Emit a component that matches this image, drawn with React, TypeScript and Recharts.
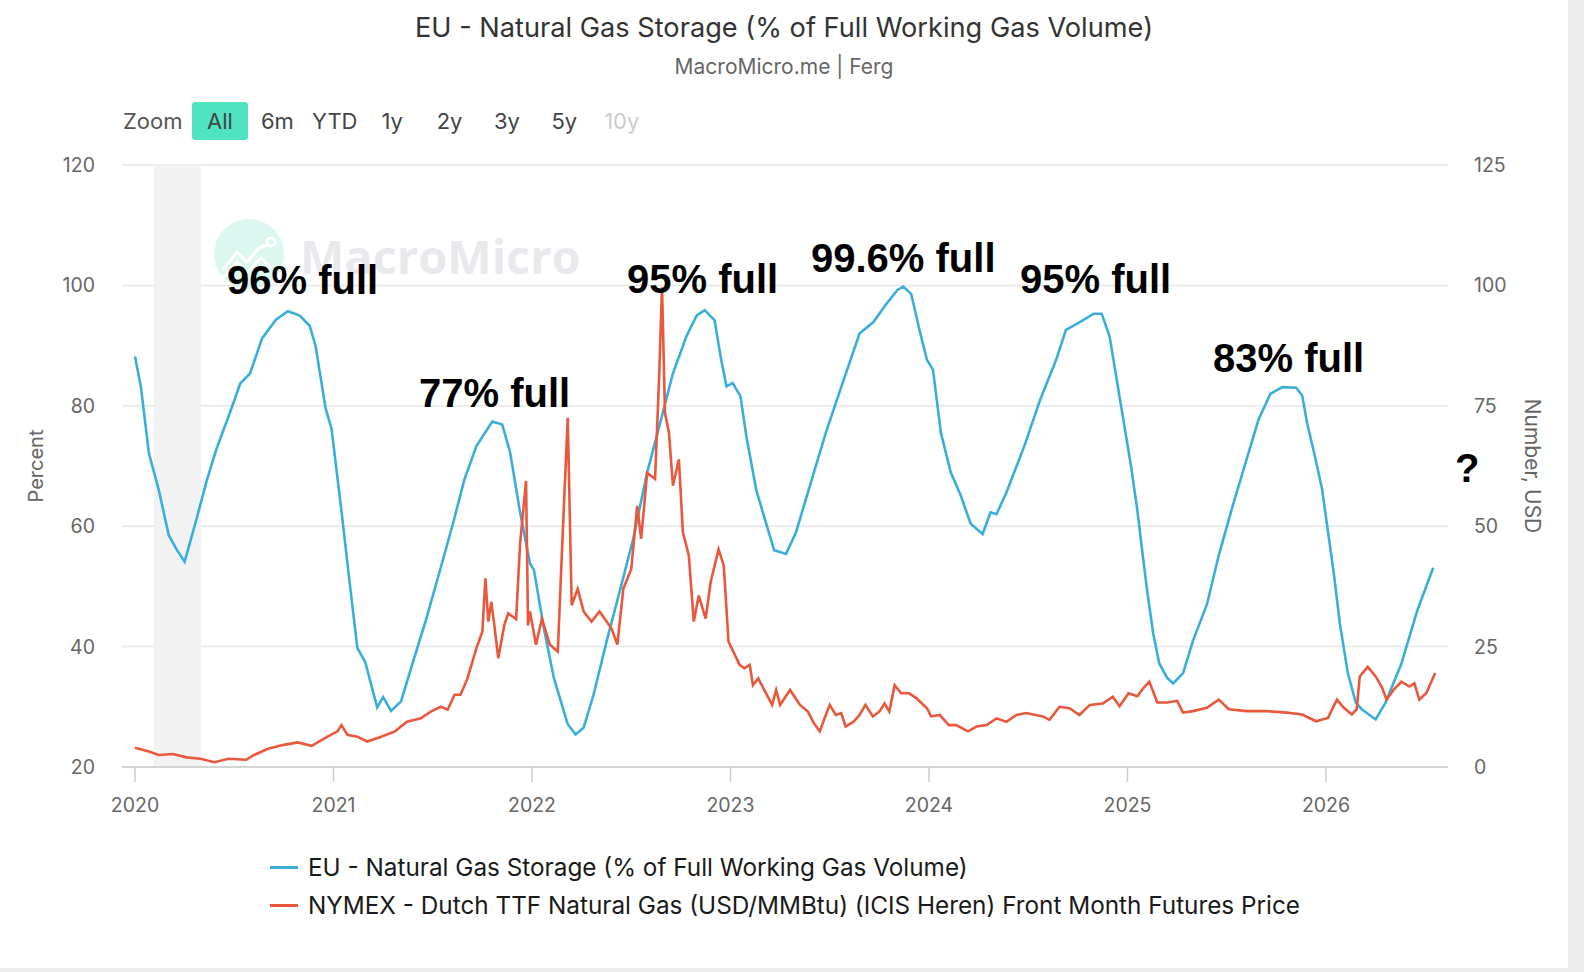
import { LineChart, Line, XAxis, YAxis, CartesianGrid, ReferenceArea } from "recharts";

// EU gas storage, % of full working gas volume (x = fractional year)
const STORAGE_DATES = [
  2020.0, 2020.03, 2020.07, 2020.12, 2020.17, 2020.21, 2020.25, 2020.31, 2020.36, 2020.41,
  2020.48, 2020.53, 2020.58, 2020.64, 2020.71, 2020.77, 2020.83, 2020.88, 2020.91, 2020.96,
  2020.99, 2021.04, 2021.08, 2021.12, 2021.16, 2021.22, 2021.25, 2021.29, 2021.34, 2021.4,
  2021.47, 2021.54, 2021.6, 2021.66, 2021.72, 2021.8, 2021.85, 2021.89, 2021.94, 2021.99,
  2022.01, 2022.06, 2022.11, 2022.18, 2022.22, 2022.26, 2022.31, 2022.38, 2022.45, 2022.51,
  2022.58, 2022.65, 2022.71, 2022.78, 2022.83, 2022.87, 2022.92, 2022.95, 2022.98, 2023.01,
  2023.05, 2023.08, 2023.13, 2023.17, 2023.22, 2023.28, 2023.33, 2023.4, 2023.48, 2023.57,
  2023.65, 2023.72, 2023.78, 2023.84, 2023.87, 2023.91, 2023.96, 2023.99, 2024.02, 2024.06,
  2024.11, 2024.16, 2024.21, 2024.27, 2024.31, 2024.34, 2024.39, 2024.48, 2024.56, 2024.64,
  2024.69, 2024.76, 2024.83, 2024.87, 2024.91, 2024.95, 2024.99, 2025.02, 2025.05, 2025.07,
  2025.1, 2025.13, 2025.16, 2025.2, 2025.23, 2025.28, 2025.33, 2025.4, 2025.46, 2025.53,
  2025.6, 2025.66, 2025.72, 2025.78, 2025.85, 2025.88, 2025.905, 2025.94, 2025.98, 2026.01,
  2026.04, 2026.07, 2026.11, 2026.15, 2026.18, 2026.25, 2026.3, 2026.38, 2026.46, 2026.54,
];
const STORAGE_PCT = [
  88.2, 83.1, 72.1, 66.0, 58.5, 56.1, 54.1, 61.2, 67.4, 72.8,
  79.0, 83.7, 85.4, 91.2, 94.3, 95.7, 95.0, 93.3, 89.9, 79.6,
  76.2, 62.6, 51.0, 39.8, 37.4, 29.9, 31.6, 29.3, 30.9, 37.4,
  44.9, 53.1, 60.2, 67.8, 73.3, 77.4, 76.9, 72.2, 62.3, 53.8,
  52.7, 43.0, 34.8, 27.1, 25.4, 26.5, 32.0, 41.4, 50.2, 57.9,
  68.9, 77.7, 85.4, 91.7, 95.0, 95.9, 94.2, 88.2, 83.2, 83.8,
  81.6, 74.9, 66.0, 61.5, 56.0, 55.4, 59.0, 66.7, 75.5, 84.3,
  92.0, 93.9, 96.7, 99.2, 99.8, 98.6, 91.5, 87.6, 86.0, 75.5,
  68.9, 65.1, 60.4, 58.7, 62.3, 62.0, 65.6, 73.3, 81.0, 87.6,
  92.6, 93.9, 95.3, 95.3, 91.5, 83.5, 75.5, 69.5, 62.5, 57.0,
  49.0, 42.1, 37.2, 34.8, 33.9, 35.6, 41.0, 47.0, 55.2, 63.4,
  71.1, 77.7, 82.0, 83.1, 83.0, 81.7, 77.1, 72.2, 66.2, 59.1,
  52.0, 43.8, 35.6, 30.7, 29.6, 27.9, 30.7, 37.2, 46.0, 53.1,
];

// Dutch TTF front month, USD/MMBtu
const TTF_DATES = [
  2020.0, 2020.07, 2020.12, 2020.19, 2020.26, 2020.33, 2020.4, 2020.47, 2020.56, 2020.6,
  2020.67, 2020.75, 2020.82, 2020.89, 2020.97, 2021.02, 2021.04, 2021.07, 2021.12, 2021.17,
  2021.24, 2021.31, 2021.37, 2021.44, 2021.49, 2021.54, 2021.575, 2021.61, 2021.64, 2021.675,
  2021.72, 2021.75, 2021.765, 2021.78, 2021.795, 2021.81, 2021.83, 2021.86, 2021.88, 2021.92,
  2021.94, 2021.97, 2021.98, 2021.99, 2022.02, 2022.05, 2022.09, 2022.13, 2022.15, 2022.18,
  2022.2, 2022.23, 2022.26, 2022.3, 2022.34, 2022.4, 2022.43, 2022.46, 2022.5, 2022.53,
  2022.55, 2022.58, 2022.62, 2022.64, 2022.655, 2022.67, 2022.69, 2022.71, 2022.74, 2022.76,
  2022.79, 2022.815, 2022.84, 2022.875, 2022.9, 2022.94, 2022.966, 2022.99, 2023.046, 2023.07,
  2023.097, 2023.113, 2023.14, 2023.17, 2023.21, 2023.23, 2023.25, 2023.3, 2023.35, 2023.39,
  2023.42, 2023.45, 2023.48, 2023.5, 2023.53, 2023.558, 2023.58, 2023.62, 2023.65, 2023.68,
  2023.717, 2023.75, 2023.776, 2023.8, 2023.827, 2023.86, 2023.9, 2023.936, 2023.99, 2024.01,
  2024.054, 2024.1, 2024.137, 2024.196, 2024.24, 2024.29, 2024.34, 2024.39, 2024.44, 2024.49,
  2024.573, 2024.607, 2024.657, 2024.708, 2024.758, 2024.81, 2024.876, 2024.926, 2024.96, 2025.005,
  2025.05, 2025.08, 2025.11, 2025.15, 2025.2, 2025.25, 2025.28, 2025.33, 2025.4, 2025.46,
  2025.51, 2025.6, 2025.7, 2025.8, 2025.88, 2025.95, 2026.01, 2026.055, 2026.09, 2026.13,
  2026.155, 2026.17, 2026.21, 2026.25, 2026.28, 2026.305, 2026.34, 2026.38, 2026.42, 2026.445,
  2026.47, 2026.505, 2026.55,
];
const TTF_USD = [
  4.0, 3.2, 2.5, 2.7, 2.0, 1.7, 1.0, 1.7, 1.5, 2.5,
  3.8, 4.6, 5.1, 4.4, 6.3, 7.4, 8.7, 6.7, 6.3, 5.3,
  6.3, 7.4, 9.4, 10.1, 11.5, 12.5, 11.9, 15.0, 15.0, 18.4,
  24.7, 28.1, 39.2, 30.2, 34.3, 29.5, 22.6, 29.4, 31.9, 30.7,
  46.4, 59.4, 29.4, 32.3, 25.4, 30.8, 25.4, 24.0, 43.9, 72.5,
  33.6, 37.0, 32.3, 30.2, 32.3, 28.8, 25.4, 37.0, 41.1, 54.2,
  47.4, 61.1, 59.8, 80.4, 99.6, 73.5, 69.4, 58.4, 63.9, 48.8,
  43.9, 30.2, 35.6, 30.8, 38.4, 45.2, 41.8, 26.0, 21.2, 20.5,
  21.2, 17.0, 18.4, 16.0, 12.9, 16.0, 12.9, 16.0, 12.9, 11.5,
  9.1, 7.4, 10.8, 12.9, 10.8, 11.2, 8.4, 9.4, 10.8, 12.9,
  10.5, 11.5, 13.2, 11.5, 17.0, 15.3, 15.3, 14.3, 12.2, 10.5,
  10.8, 8.7, 8.7, 7.4, 8.4, 8.7, 10.1, 9.4, 10.8, 11.2,
  10.5, 9.8, 12.5, 12.2, 10.8, 12.9, 13.2, 14.6, 12.6, 15.3,
  14.7, 16.4, 17.7, 13.4, 13.4, 13.7, 11.3, 11.6, 12.3, 14.0,
  12.0, 11.6, 11.6, 11.3, 10.9, 9.5, 10.2, 14.0, 12.3, 10.9,
  12.0, 18.8, 20.8, 18.8, 16.7, 14.0, 16.0, 17.7, 16.7, 17.4,
  14.0, 15.3, 19.5,
];

const YEAR_TICKS = [2020, 2021, 2022, 2023, 2024, 2025, 2026];
const PCT_TICKS = [20, 40, 60, 80, 100, 120];
const USD_TICKS = [0, 25, 50, 75, 100, 125];
const RECESSION = [2020.095, 2020.333];

const RANGE_BUTTONS = ["All", "6m", "YTD", "1y", "2y", "3y", "5y", "10y"];

const ANNOTATIONS = [
  { text: "96% full", left: 227, top: 260 },
  { text: "77% full", left: 419, top: 373 },
  { text: "95% full", left: 627, top: 259 },
  { text: "99.6% full", left: 811, top: 238 },
  { text: "95% full", left: 1020, top: 259 },
  { text: "83% full", left: 1213, top: 338 },
  { text: "?", left: 1455, top: 448 },
];

const SERIES = [
  { name: "EU - Natural Gas Storage (% of Full Working Gas Volume)", color: "#3aaedb" },
  { name: "NYMEX - Dutch TTF Natural Gas (USD/MMBtu) (ICIS Heren) Front Month Futures Price", color: "#e9573d" },
];

const storageData = STORAGE_DATES.map((t, i) => ({ t, v: STORAGE_PCT[i] }));
const ttfData = TTF_DATES.map((t, i) => ({ t, v: TTF_USD[i] }));

const FONT = "Inter, 'Liberation Sans', sans-serif";
const tickStyle = { fill: "#666", fontSize: 19.5, fontFamily: FONT };

export default function App() {
  return (
    <div
      style={{
        position: "absolute",
        left: 0,
        top: 0,
        width: 1584,
        height: 972,
        background: "#ececec",
        fontFamily: FONT,
      }}
    >
      <div style={{ position: "absolute", left: 0, top: 0, width: 1568, height: 968, background: "#fff" }}>
        {/* watermark */}
        <svg style={{ position: "absolute", left: 213, top: 218 }} width={72} height={72}>
          <circle cx={36} cy={36} r={35} fill="#dcf7ef" />
          <polyline points="10,52 24,34 34,44 46,30 56,26" fill="none" stroke="#fff" strokeWidth={3} />
          <polyline points="10,60 24,44 34,54 48,40 58,50" fill="none" stroke="#fff" strokeWidth={3} />
          <circle cx={58} cy={24} r={4} fill="none" stroke="#fff" strokeWidth={2.5} />
        </svg>
        <div
          style={{
            position: "absolute",
            left: 300,
            top: 228,
            fontSize: 47,
            fontWeight: 700,
            color: "#e8e9ec",
            fontFamily: "'Open Sans', sans-serif",
            lineHeight: "56px",
          }}
        >
          MacroMicro
        </div>

        <div style={{ position: "absolute", left: 0, width: 1568, top: 11, textAlign: "center", fontSize: 27.2, color: "#333" }}>
          EU - Natural Gas Storage (% of Full Working Gas Volume)
        </div>
        <div style={{ position: "absolute", left: 0, width: 1568, top: 54, textAlign: "center", fontSize: 21, color: "#666" }}>
          MacroMicro.me | Ferg
        </div>

        <div style={{ position: "absolute", left: 123, top: 102, height: 38, display: "flex", alignItems: "center", fontSize: 22 }}>
          <span style={{ color: "#555", width: 69 }}>Zoom</span>
          {RANGE_BUTTONS.map((b, i) => (
            <span
              key={b}
              style={{
                width: 56,
                height: 38,
                lineHeight: "38px",
                textAlign: "center",
                marginRight: 1.4,
                borderRadius: 3,
                background: i === 0 ? "#50e3c2" : "transparent",
                color: b === "10y" ? "#ccc" : "#444",
              }}
            >
              {b}
            </span>
          ))}
        </div>

        <div style={{ position: "absolute", left: 0, top: 0 }}>
          <LineChart width={1568} height={850} margin={{ top: 165, right: 60, bottom: 43, left: 62 }}>
            <CartesianGrid yAxisId="pct" vertical={false} stroke="#e6e6e6" strokeWidth={1.5} />
            <XAxis
              dataKey="t"
              type="number"
              domain={[2019.9345, 2026.6146]}
              ticks={YEAR_TICKS}
              allowDataOverflow
              height={40}
              stroke="#ccc"
              strokeWidth={1.5}
              tickSize={15}
              tickMargin={16}
              tick={tickStyle}
            />
            <YAxis
              yAxisId="pct"
              domain={[20, 120]}
              ticks={PCT_TICKS}
              width={60}
              axisLine={false}
              tickLine={false}
              tickSize={0}
              tickMargin={27}
              tick={tickStyle}
            />
            <YAxis
              yAxisId="usd"
              orientation="right"
              domain={[0, 125]}
              ticks={USD_TICKS}
              width={60}
              axisLine={false}
              tickLine={false}
              tickSize={0}
              tickMargin={26}
              tick={{ ...tickStyle, textAnchor: "start" }}
            />
            <ReferenceArea
              yAxisId="pct"
              x1={RECESSION[0]}
              x2={RECESSION[1]}
              y1={20}
              y2={120}
              fill="#f2f2f2"
              fillOpacity={1}
              stroke="none"
            />
            <Line
              yAxisId="pct"
              data={storageData}
              dataKey="v"
              type="linear"
              stroke={SERIES[0].color}
              strokeWidth={2.6}
              dot={false}
              isAnimationActive={false}
            />
            <Line
              yAxisId="usd"
              data={ttfData}
              dataKey="v"
              type="linear"
              stroke={SERIES[1].color}
              strokeWidth={2.6}
              dot={false}
              isAnimationActive={false}
            />
          </LineChart>
        </div>

        <div
          style={{
            position: "absolute",
            left: 36,
            top: 466,
            transform: "translate(-50%, -50%) rotate(-90deg)",
            fontSize: 20,
            color: "#666",
            whiteSpace: "nowrap",
          }}
        >
          Percent
        </div>
        <div
          style={{
            position: "absolute",
            left: 1532,
            top: 466,
            transform: "translate(-50%, -50%) rotate(90deg)",
            fontSize: 21,
            color: "#666",
            whiteSpace: "nowrap",
          }}
        >
          Number, USD
        </div>

        {ANNOTATIONS.map((a, i) => (
          <div
            key={i}
            style={{
              position: "absolute",
              left: a.left,
              top: a.top,
              fontFamily: "'Liberation Sans', Arial, sans-serif",
              fontWeight: 700,
              fontSize: 40,
              lineHeight: "40px",
              color: "#000",
              whiteSpace: "nowrap",
            }}
          >
            {a.text}
          </div>
        ))}

        <div style={{ position: "absolute", left: 270, top: 848 }}>
          {SERIES.map((s) => (
            <div key={s.name} style={{ display: "flex", alignItems: "center", height: 38, fontSize: 24.3, color: "#1a1a1a" }}>
              <span style={{ width: 28, height: 3, background: s.color, marginRight: 10 }} />
              {s.name}
            </div>
          ))}
        </div>
      </div>
    </div>
  );
}
